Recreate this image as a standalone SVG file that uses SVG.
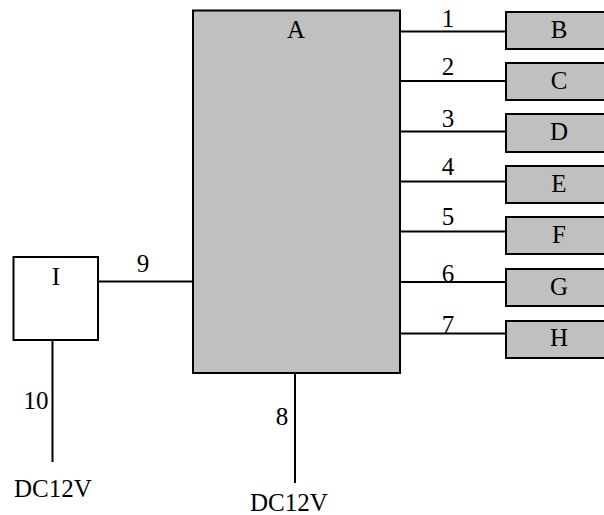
<svg xmlns="http://www.w3.org/2000/svg" width="604" height="515" viewBox="0 0 604 515">
<style>
.box{fill:#c0c0c0;stroke:#000;stroke-width:2}
.wbox{fill:#fff;stroke:#000;stroke-width:2}
.ln{stroke:#000;stroke-width:2;fill:none}
text{font-family:"Liberation Serif","Times New Roman",serif;font-size:25px;fill:#000}
.m{text-anchor:middle}
</style>
<rect width="604" height="515" fill="#fff"/>
<g id="connectors">
<line class="ln" x1="400" y1="31.5" x2="506" y2="31.5"/>
<line class="ln" x1="400" y1="81" x2="506" y2="81"/>
<line class="ln" x1="398" y1="131.5" x2="506" y2="131.5"/>
<line class="ln" x1="400" y1="181.5" x2="506" y2="181.5"/>
<line class="ln" x1="398" y1="231.5" x2="506" y2="231.5"/>
<line class="ln" x1="400" y1="282" x2="506" y2="282"/>
<line class="ln" x1="400" y1="333.5" x2="506" y2="333.5"/>
<line class="ln" x1="98" y1="281.5" x2="193" y2="281.5"/>
<line class="ln" x1="52.5" y1="340" x2="52.5" y2="462"/>
<line class="ln" x1="295" y1="373" x2="295" y2="483"/>
<text class="m" x="448" y="27">1</text>
<text class="m" x="448" y="75">2</text>
<text class="m" x="448" y="127">3</text>
<text class="m" x="448" y="175">4</text>
<text class="m" x="448" y="225">5</text>
<text class="m" x="448" y="282">6</text>
<text class="m" x="448" y="333">7</text>
<text class="m" x="282" y="425">8</text>
<text class="m" x="143" y="272">9</text>
<text class="m" x="36" y="409">10</text>
<text x="14" y="497">DC12V</text>
<text x="250" y="511">DC12V</text>
</g>
<g id="A"><rect class="box" x="193" y="10.5" width="207" height="362.5"/><text class="m" x="296" y="38">A</text></g>
<g id="B"><rect class="box" x="506" y="12" width="106" height="37"/><text class="m" x="559" y="38">B</text></g>
<g id="C"><rect class="box" x="506" y="63" width="106" height="37"/><text class="m" x="559" y="89">C</text></g>
<g id="D"><rect class="box" x="506" y="114" width="106" height="38"/><text class="m" x="559" y="140">D</text></g>
<g id="E"><rect class="box" x="506" y="166" width="106" height="37"/><text class="m" x="559" y="192">E</text></g>
<g id="F"><rect class="box" x="506" y="217" width="106" height="37"/><text class="m" x="559" y="243">F</text></g>
<g id="G"><rect class="box" x="506" y="269" width="106" height="37"/><text class="m" x="559" y="295">G</text></g>
<g id="H"><rect class="box" x="506" y="321" width="106" height="37"/><text class="m" x="559" y="346">H</text></g>
<g id="I"><rect class="wbox" x="13.5" y="257" width="84.5" height="83"/><text class="m" x="56" y="285">I</text></g>
</svg>
